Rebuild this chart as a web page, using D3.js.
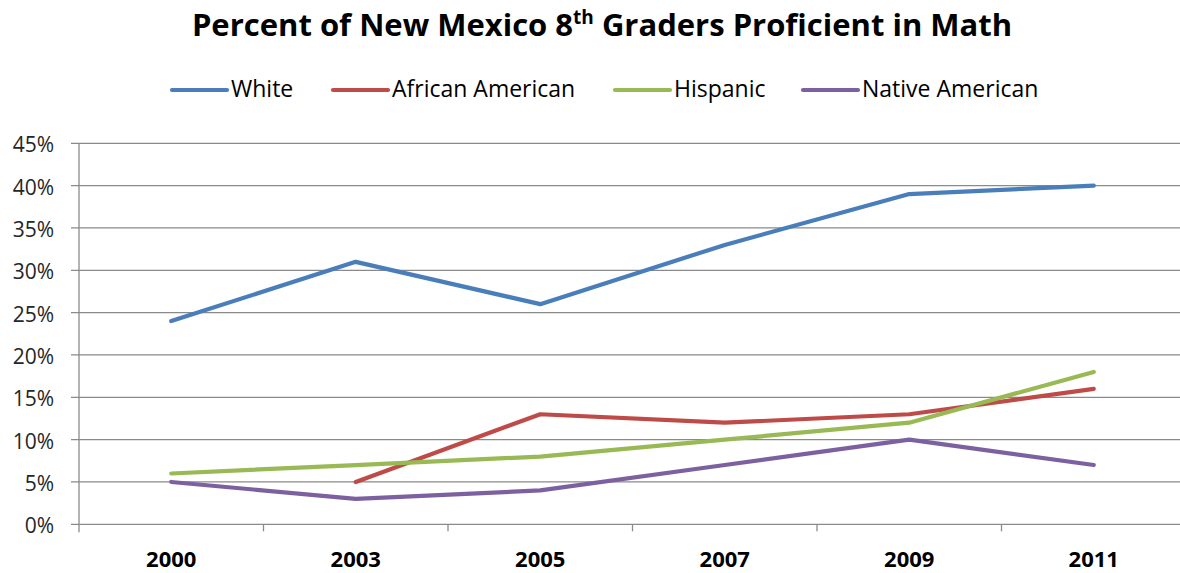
<!DOCTYPE html>
<html><head><meta charset="utf-8">
<script src="https://cdn.jsdelivr.net/npm/d3@7"></script>
<style>body{margin:0;background:#fff;} svg{display:block;}</style>
</head><body>
<svg id="c" width="1180" height="573"></svg>
<script>
const categories = ["2000","2003","2005","2007","2009","2011"];
const white = [24,31,26,33,39,40];
const africanAmerican = [null,5,13,12,13,16];
const hispanic = [6,7,8,10,12,18];
const nativeAmerican = [5,3,4,7,10,7];
const yTicks = [0,5,10,15,20,25,30,35,40,45];
const seriesNames = ["White","African American","Hispanic","Native American"];
const seriesColors = ["#4A7EBB","#BE4B48","#98B954","#7D60A0"];
const seriesData = [white, africanAmerican, hispanic, nativeAmerican];

(function(){
const svg = d3.select("#c");
const pL = 79, pR = 1186, pT = 143.3, pB = 524.3;
const x = d3.scaleBand().domain(categories).range([pL, pR]).paddingInner(0).paddingOuter(0);
const y = d3.scaleLinear().domain([0,45]).range([pB, pT]);
const font = "'Open Sans', 'Noto Sans', sans-serif";

// title
const title = svg.append("text").attr("x", 602).attr("y", 36).attr("text-anchor","middle")
  .attr("font-family", font).attr("font-weight","bold").attr("font-size", 31).attr("fill","#000");
title.append("tspan").text("Percent of New Mexico 8");
title.append("tspan").text("th").attr("font-size", 19).attr("dy", -12);
title.append("tspan").text(" Graders Proficient in Math").attr("dy", 12);

// gridlines
svg.append("g").selectAll("line").data(yTicks).join("line")
  .attr("x1", pL - 8).attr("x2", 1180).attr("y1", d => y(d)).attr("y2", d => y(d))
  .attr("stroke", "#8A8A8A").attr("stroke-width", 1.3);

// y axis line
svg.append("line").attr("x1", pL).attr("x2", pL).attr("y1", pT).attr("y2", pB + 8)
  .attr("stroke", "#8A8A8A").attr("stroke-width", 1.3);

// x tick marks at band boundaries
svg.append("g").selectAll("line").data(categories.slice(1)).join("line")
  .attr("x1", d => x(d)).attr("x2", d => x(d)).attr("y1", pB).attr("y2", pB + 7)
  .attr("stroke", "#8A8A8A").attr("stroke-width", 1.3);

// y labels
svg.append("g").selectAll("text").data(yTicks).join("text")
  .attr("x", 54).attr("y", d => y(d) + 9).attr("text-anchor","end")
  .attr("font-family", font).attr("font-size", 21).attr("fill", "#262626")
  .text(d => d + "%");

// x labels
svg.append("g").selectAll("text").data(categories).join("text")
  .attr("x", d => x(d) + x.bandwidth()/2).attr("y", 566.5).attr("text-anchor","middle")
  .attr("font-family", font).attr("font-weight","bold").attr("font-size", 22).attr("fill", "#000")
  .text(d => d);

// lines
const line = d3.line()
  .defined(d => d.v != null)
  .x(d => x(d.c) + x.bandwidth()/2)
  .y(d => y(d.v));
seriesData.forEach((arr, i) => {
  svg.append("path")
    .datum(categories.map((c, j) => ({c, v: arr[j]})))
    .attr("d", line).attr("fill","none")
    .attr("stroke", seriesColors[i]).attr("stroke-width", 4.2)
    .attr("stroke-linejoin","round").attr("stroke-linecap","round");
});

// legend
const legX = [172, 333, 615, 803];
const lg = svg.append("g");
seriesNames.forEach((n, i) => {
  lg.append("line").attr("x1", legX[i]).attr("x2", legX[i] + 55).attr("y1", 90).attr("y2", 90)
    .attr("stroke", seriesColors[i]).attr("stroke-width", 4.2).attr("stroke-linecap","round");
  lg.append("text").attr("x", legX[i] + 59).attr("y", 97.3)
    .attr("font-family", font).attr("font-size", 23).attr("fill","#000").text(n);
});
})();
</script>
</body></html>
